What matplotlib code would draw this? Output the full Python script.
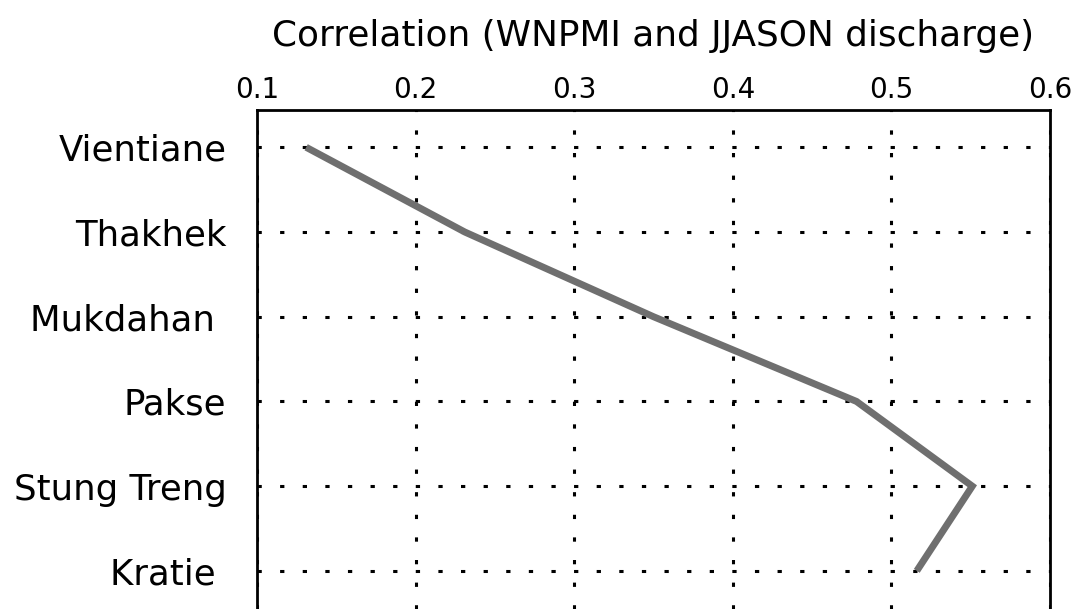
# Correlation between WNPMI and JJASON discharge along the Mekong stations

import matplotlib.pyplot as plt
import numpy as np

stations = ['Vientiane', 'Thakhek', 'Mukdahan ', 'Pakse', 'Stung Treng', 'Kratie ']
corr = [0.131, 0.231, 0.350, 0.478, 0.551, 0.516]
xticks = [0.1, 0.2, 0.3, 0.4, 0.5, 0.6]


def main():
    fig = plt.figure(figsize=(10.75, 6.09), dpi=100)
    ax = fig.add_axes([257 / 1075, 0, (1050 - 257) / 1075, 499 / 609])

    y = np.arange(len(stations))
    ax.plot(corr, y, color='#6f6f6f', lw=5, solid_capstyle='butt',
            solid_joinstyle='miter', zorder=3)

    ax.set_xlim(0.1, 0.6)
    ax.set_ylim(5.45, -0.44)
    ax.set_xticks(xticks)
    ax.set_xticklabels([str(t) for t in xticks], fontsize=20)
    ax.set_yticks(y)
    ax.set_yticklabels(stations, fontsize=25.6)
    ax.xaxis.tick_top()
    ax.xaxis.set_label_position('top')
    ax.tick_params(axis='x', length=0, pad=4)
    ax.tick_params(axis='y', length=0, pad=22)
    ax.set_xlabel('Correlation (WNPMI and JJASON discharge)', fontsize=25.8, labelpad=22)

    ax.grid(True, color='black', lw=2.2, dashes=(1.4, 6.0))
    ax.set_axisbelow(True)
    for s in ['top', 'left', 'right']:
        ax.spines[s].set_linewidth(2)
    ax.spines['bottom'].set_visible(False)

    plt.savefig('out.png', dpi=100)


if __name__ == '__main__':
    main()
